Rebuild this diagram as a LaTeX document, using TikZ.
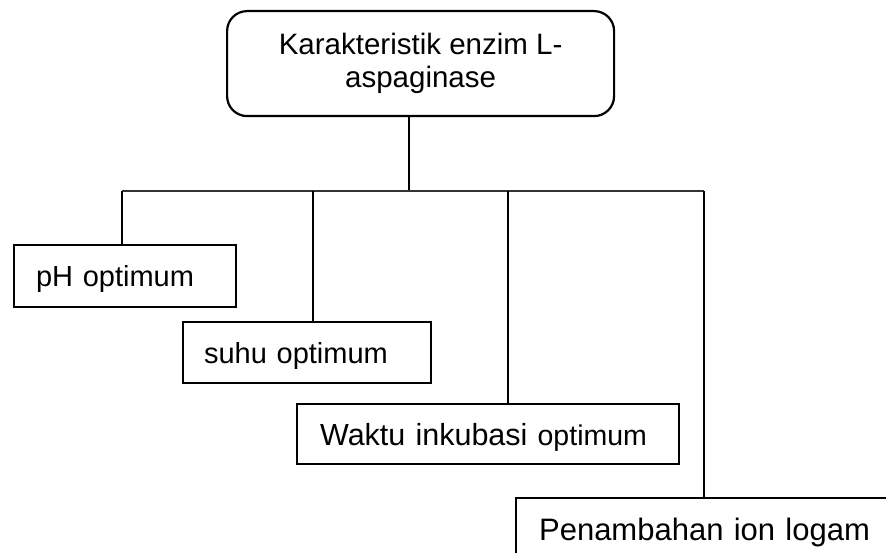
\documentclass[tikz,border=0pt]{standalone}
\usepackage{fontspec}
\setmainfont{Liberation Sans}
\begin{document}
\begin{tikzpicture}[x=1pt,y=-1pt,
  rootfont/.style={font=\fontsize{29.5}{33}\selectfont},
  bigfont/.style={font=\fontsize{31}{34}\selectfont, text height=22pt},
  midfont/.style={font=\fontsize{30.5}{33}\selectfont, text height=22pt},
  smallfont/.style={font=\fontsize{29}{32}\selectfont, text height=21pt},
  rootbox/.style={draw, line width=2.2pt, rounded corners=20pt, anchor=north west,
    align=center, inner sep=0pt, rootfont},
  leafbox/.style={draw, line width=2.2pt, anchor=north west, align=left,
    inner ysep=0pt, text depth=0pt},
  link/.style={line width=2pt},
  bus/.style={line width=1.6pt, black!80}]
  \useasboundingbox (0,0) rectangle (886,553);
  \clip (0,0) rectangle (886,553);

  % root of the tree
  \node[rootbox, minimum width=387pt, minimum height=105pt] (root) at (226,10)
    {Karakteristik enzim L-\\aspaginase};

  % the four characteristics
  \node[leafbox, smallfont, inner xsep=22pt, text width=178pt, minimum height=62pt]
    (ph) at (13,244) {pH optimum};
  \node[leafbox, smallfont, inner xsep=21pt, text width=206pt, minimum height=61pt]
    (suhu) at (182,321) {suhu optimum};
  \node[leafbox, midfont, inner xsep=23pt, text width=336pt, minimum height=60pt]
    (waktu) at (296,403) {Waktu inkubasi {\fontsize{28.5}{32}\selectfont optimum}};
  \node[leafbox, bigfont, inner xsep=23pt, text width=374pt, minimum height=62pt]
    (ion) at (515,497) {Penambahan ion logam};

  % branching points on the horizontal bus
  \coordinate (hub) at (409,191);
  \coordinate (b1) at (122,191);
  \coordinate (b2) at (313,191);
  \coordinate (b3) at (508,191);
  \coordinate (b4) at (704,191);

  \draw[link] (root.south -| hub) -- (hub);
  \draw[bus] (b1) -- (b4);
  \draw[link] (b1) -- (b1 |- ph.north);
  \draw[link] (b2) -- (b2 |- suhu.north);
  \draw[link] (b3) -- (b3 |- waktu.north);
  \draw[link] (b4) -- (b4 |- ion.north);
\end{tikzpicture}
\end{document}
